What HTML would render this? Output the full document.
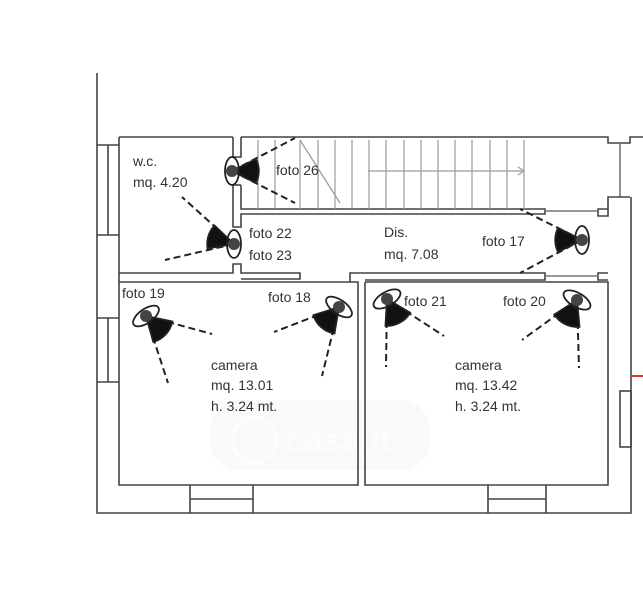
<!DOCTYPE html>
<html><head><meta charset="utf-8"><style>
html,body{margin:0;padding:0;background:#fff;}
svg{display:block;}
text{font-family:"Liberation Sans",sans-serif;font-size:14px;fill:#333;}
</style></head><body>
<svg width="643" height="600" viewBox="0 0 643 600" xmlns="http://www.w3.org/2000/svg">
<defs>
<path id="w" d="M0,0 L24,-12 A27,27 0 0 1 24,12 Z" fill="#111"/>
<path id="wr" d="M0,0 L23,-14 A27,27 0 0 1 23,14 Z" fill="#111"/>
</defs>
<!-- watermark -->
<g opacity="0.06">
<rect x="210" y="400" width="220" height="70" rx="30" fill="#999"/>
</g>
<g opacity="0.5">
<text x="285" y="452" style="font-size:34px;fill:#fff;font-weight:bold">casa.it</text>
<circle cx="255" cy="440" r="22" fill="none" stroke="#fff" stroke-width="4"/>
</g>
<g fill="none" stroke="#444" stroke-width="1.6">
<polyline points="97,73 97,513 631,513 631,197"/>
<polyline points="119,137 233,137"/>
<polyline points="241,137 608,137 608,143 630,143 630,137 643,137"/>
<line x1="620" y1="143" x2="620" y2="197" stroke="#777"/>
<polyline points="119,137 119,485 358,485 358,282 119,282"/>
<polyline points="119,273 233,273 233,264 241,264 241,273 300,273 300,279 241,279"/>
<polyline points="233,137 233,157 241,157 241,137"/>
<polyline points="233,185 233,227 241,227 241,214 545,214 545,209 241,209 241,185"/>
<polyline points="241,185 233,185"/>
<polyline points="350,282 350,273 545,273 545,280 365,280"/>
<polyline points="365,282 365,485 608,485 608,282 365,282"/>
<polyline points="608,273 598,273 598,280 608,280"/>
<polyline points="608,209 598,209 598,216 608,216 608,197 630,197"/>
<line x1="545" y1="211" x2="598" y2="211" stroke="#777"/>
<line x1="545" y1="276" x2="598" y2="276" stroke="#777"/>
<path d="M97,145 H119 M97,235 H119 M108,145 V235"/>
<path d="M97,318 H119 M97,382 H119 M108,318 V382"/>
<path d="M190,485 V513 M253,485 V513 M190,499 H253"/>
<path d="M488,485 V513 M546,485 V513 M488,499 H546"/>
<rect x="620" y="391" width="11" height="56"/>
</g>
<line x1="631" y1="376" x2="643" y2="376" stroke="#d33" stroke-width="2"/>
<g stroke="#999" stroke-width="1.2">
<path d="M258,140V209M275,140V209M300,140V209M318,140V209M335,140V209M352,140V209M369,140V209M386,140V209M404,140V209M421,140V209M438,140V209M455,140V209M472,140V209M490,140V209M507,140V209M524,140V209"/>
<line x1="300" y1="140" x2="340" y2="203"/>
<line x1="368" y1="171" x2="522" y2="171"/>
<path d="M518,167 L524,171 L518,175" fill="none"/>
</g>
<g stroke="#222" stroke-width="2" stroke-dasharray="7,4" fill="none">
<line x1="232" y1="171" x2="295" y2="138"/><line x1="232" y1="171" x2="295" y2="203"/>
<line x1="234" y1="244" x2="182" y2="197"/><line x1="234" y1="244" x2="165" y2="260"/>
<line x1="582" y1="240" x2="520" y2="209"/><line x1="582" y1="240" x2="520" y2="273"/>
<line x1="146" y1="316" x2="212" y2="334"/><line x1="146" y1="316" x2="168" y2="383"/>
<line x1="339" y1="307" x2="274" y2="332"/><line x1="339" y1="307" x2="322" y2="376"/>
<line x1="387" y1="299" x2="444" y2="336"/><line x1="387" y1="299" x2="386" y2="367"/>
<line x1="577" y1="300" x2="522" y2="340"/><line x1="577" y1="300" x2="579" y2="368"/>
</g>
<g stroke="#222" stroke-width="1.8" fill="none">
<use href="#w" transform="translate(232,171) rotate(0)"/>
<ellipse cx="232" cy="171" rx="7" ry="14"/>
<use href="#w" transform="translate(234,244) rotate(197)"/>
<ellipse cx="234" cy="244" rx="7" ry="14"/>
<use href="#w" transform="translate(582,240) rotate(180)"/>
<ellipse cx="582" cy="240" rx="7" ry="14"/>
<use href="#wr" transform="translate(146,316) rotate(43)"/>
<ellipse cx="146" cy="316" rx="15" ry="7" transform="rotate(-35 146 316)"/>
<use href="#wr" transform="translate(339,307) rotate(131)"/>
<ellipse cx="339" cy="307" rx="15" ry="7" transform="rotate(35 339 307)"/>
<use href="#wr" transform="translate(387,299) rotate(62)"/>
<ellipse cx="387" cy="299" rx="15" ry="7" transform="rotate(-30 387 299)"/>
<use href="#wr" transform="translate(577,300) rotate(116)"/>
<ellipse cx="577" cy="300" rx="15" ry="7" transform="rotate(30 577 300)"/>
</g>
<g fill="#444">
<circle cx="232" cy="171" r="6"/><circle cx="234" cy="244" r="6"/><circle cx="582" cy="240" r="6"/>
<circle cx="146" cy="316" r="6"/><circle cx="339" cy="307" r="6"/><circle cx="387" cy="299" r="6"/><circle cx="577" cy="300" r="6"/>
</g>
<text x="133" y="166">w.c.</text>
<text x="133" y="187">mq. 4.20</text>
<text x="276" y="175">foto 26</text>
<text x="249" y="238">foto 22</text>
<text x="249" y="260">foto 23</text>
<text x="384" y="237">Dis.</text>
<text x="384" y="259">mq. 7.08</text>
<text x="482" y="246">foto 17</text>
<text x="122" y="298">foto 19</text>
<text x="268" y="302">foto 18</text>
<text x="404" y="306">foto 21</text>
<text x="503" y="306">foto 20</text>
<text x="211" y="370">camera</text>
<text x="211" y="390">mq. 13.01</text>
<text x="211" y="411">h. 3.24 mt.</text>
<text x="455" y="370">camera</text>
<text x="455" y="390">mq. 13.42</text>
<text x="455" y="411">h. 3.24 mt.</text>
</svg>
</body></html>
